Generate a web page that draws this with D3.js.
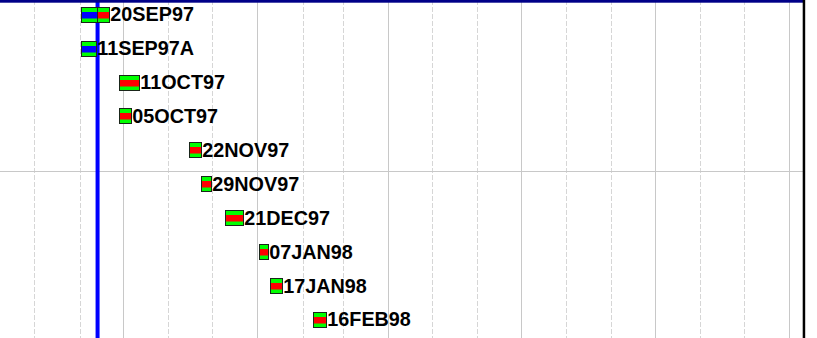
<!DOCTYPE html>
<html><head><meta charset="utf-8">
<script src="https://cdn.jsdelivr.net/npm/d3@7/dist/d3.min.js"></script>
<style>html,body{margin:0;padding:0;background:#fff;overflow:hidden}svg{display:block}</style>
</head><body>
<svg id="chart" width="817" height="338"></svg>
<script>
// ---- data ----
const labels   = ["20SEP97","11SEP97A","11OCT97","05OCT97","22NOV97","29NOV97","21DEC97","07JAN98","17JAN98","16FEB98"];
const starts   = ["1997-09-02","1997-09-02","1997-09-28","1997-09-28","1997-11-15","1997-11-23","1997-12-10","1998-01-02","1998-01-10","1998-02-08"];
const finishes = ["1997-09-20","1997-09-11","1997-10-11","1997-10-05","1997-11-22","1997-11-29","1997-12-21","1998-01-07","1998-01-17","1998-02-16"];
const completed = [false,true,false,false,false,false,false,false,false,false];
const dataDate = "1997-09-13";
const groupBreakAfter = 4;   // row index after which a separator line is drawn
const quarterMonths = [0,3,6,9];

// ---- setup ----
const W = 817, H = 338, plotRight = 803;
const parse = d3.timeParse("%Y-%m-%d");
const svg = d3.select("#chart");

const x = d3.scaleTime()
  .domain([new Date(1997,9,1), new Date(1999,0,1)])
  .range([123.3, 789.2]);
const y = d3.scalePoint()
  .domain(d3.range(labels.length))
  .range([14.3, 319.4]);
const step = y.step();

const rows = labels.map((l,i)=>({
  label:l,
  start:parse(starts[i]),
  finish:d3.timeDay.offset(parse(finishes[i]),1), // finish at end of day
  done:completed[i],
  i
}));
const dd = parse(dataDate);
const px = v => Math.round(v) + 0.5;

// ---- gridlines ----
const months = d3.timeMonth.range(x.invert(0), x.invert(plotRight));
svg.append("g").selectAll("line").data(months).join("line")
  .attr("x1",d=>px(x(d))).attr("x2",d=>px(x(d)))
  .attr("y1",0).attr("y2",H)
  .attr("stroke",d=>quarterMonths.includes(d.getMonth())?"#c8c8c8":"#d6d6d6")
  .attr("stroke-width",1)
  .attr("stroke-dasharray",d=>quarterMonths.includes(d.getMonth())?null:"5,2");

svg.append("line")
  .attr("x1",0).attr("x2",plotRight)
  .attr("y1",px(y(groupBreakAfter)+step*0.61))
  .attr("y2",px(y(groupBreakAfter)+step*0.61))
  .attr("stroke","#c8c8c8").attr("stroke-width",1);

// ---- data date line ----
svg.append("line")
  .attr("x1",x(dd)+0.5).attr("x2",x(dd)+0.5)
  .attr("y1",0).attr("y2",H)
  .attr("stroke","#0000ff").attr("stroke-width",4);

// ---- bars ----
const barH = 15;
function segment(g, x0, x1, cy, mid){
  const l = px(x0), r = px(x1), t = px(cy - barH/2);
  g.append("rect").attr("x",l).attr("y",t).attr("width",Math.max(0,r-l)).attr("height",barH)
    .attr("fill","#00ff00");
  g.append("rect").attr("x",l).attr("y",t+4.5).attr("width",Math.max(0,r-l)).attr("height",6.5)
    .attr("fill",mid);
  g.append("rect").attr("x",l).attr("y",t).attr("width",Math.max(0,r-l)).attr("height",barH)
    .attr("fill","none").attr("stroke","#1a261a").attr("stroke-width",1);
}
const bars = svg.append("g");
rows.forEach(r=>{
  const cy = y(r.i);
  const xs = x(r.start), xf = x(r.finish), xd = x(dd);
  const g = bars.append("g");
  if(r.done){
    segment(g, xs, xf, cy, "#0000ff");
  } else if(xs < xd && xf > xd){
    segment(g, xs, xd, cy, "#0000ff");
    segment(g, xd, xf, cy, "#ff0000");
  } else {
    segment(g, xs, xf, cy, "#ff0000");
  }
  g.append("text")
    .attr("x",px(xf)+0.8).attr("y",cy+7)
    .attr("font-family","'Liberation Sans', Arial, Helvetica, sans-serif")
    .attr("font-weight","bold").attr("font-size","19.8px")
    .attr("fill","#000")
    .text(r.label);
});

// ---- borders ----
svg.append("rect").attr("x",0).attr("y",0).attr("width",plotRight).attr("height",2.7).attr("fill","#000088");
svg.append("rect").attr("x",plotRight-0.3).attr("y",0).attr("width",2.5).attr("height",H).attr("fill","#000");
</script>
</body></html>
